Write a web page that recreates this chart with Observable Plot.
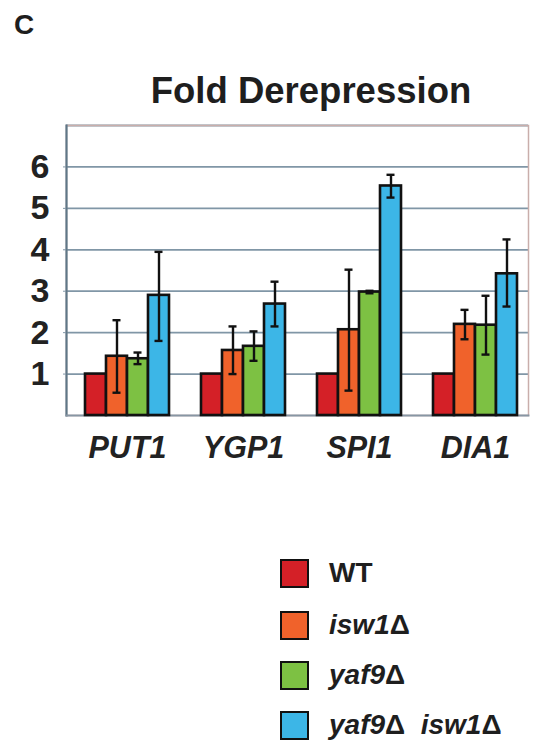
<!DOCTYPE html>
<html><head><meta charset="utf-8">
<script src="https://cdn.jsdelivr.net/npm/d3@7"></script>
<script src="https://cdn.jsdelivr.net/npm/@observablehq/plot@0.6"></script>
<style>
body{margin:0;background:#fff;font-family:"Liberation Sans",Arial,sans-serif;color:#1e1e1e;}
#wrap{position:relative;width:536px;height:745px;overflow:hidden;}
#panel{position:absolute;left:14px;top:11px;font-size:28px;line-height:28px;font-weight:bold;}
#title{position:absolute;left:111px;width:400px;text-align:center;top:73px;font-size:36.5px;line-height:36px;font-weight:bold;}
.layer{position:absolute;left:0;top:0;}
#legend{position:absolute;left:280px;top:0;}
.row{position:absolute;left:0;height:30px;display:flex;align-items:center;white-space:nowrap;}
.sw{width:25px;height:25px;border:2.5px solid #111;}
.lab{margin-left:20px;font-size:28px;line-height:30px;font-weight:bold;}
.lab i{font-style:italic;}
</style></head>
<body>
<div id="wrap">
  <div id="panel">C</div>
  <div id="title">Fold Derepression</div>
  <div id="back" class="layer"></div>
  <div id="front" class="layer"></div>
  <div id="legend"></div>
</div>
<script>
const genes = ["PUT1", "YGP1", "SPI1", "DIA1"];
const strains = ["WT", "isw1Δ", "yaf9Δ", "yaf9Δ isw1Δ"];
const colors = ["#d42027", "#f0622b", "#7dc143", "#3cb6e7"];
const yTicks = [1, 2, 3, 4, 5, 6];
const gridValues = [1, 2, 3, 4, 5, 6, 7];

const wtValues = [1, 1, 1, 1];
const isw1Values = [1.43, 1.57, 2.07, 2.2];
const yaf9Values = [1.37, 1.67, 2.98, 2.18];
const doubleValues = [2.9, 2.69, 5.54, 3.42];

const isw1Lo = [0.55, 1.0, 0.6, 1.84];
const isw1Hi = [2.3, 2.15, 3.52, 2.55];
const yaf9Lo = [1.24, 1.32, 2.95, 1.47];
const yaf9Hi = [1.52, 2.03, 3.01, 2.89];
const doubleLo = [1.8, 2.15, 5.26, 2.63];
const doubleHi = [3.95, 3.23, 5.81, 4.25];

const values = [wtValues, isw1Values, yaf9Values, doubleValues];
const los = [null, isw1Lo, yaf9Lo, doubleLo];
const his = [null, isw1Hi, yaf9Hi, doubleHi];

const data = [];
const errs = [];
genes.forEach((g, i) => strains.forEach((s, j) => {
  data.push({gene: g, strain: s, value: values[j][i]});
  if (los[j]) errs.push({gene: g, strain: s, lo: los[j][i], hi: his[j][i]});
}));

const dims = {width: 536, height: 470, marginLeft: 66, marginRight: 8, marginTop: 125, marginBottom: 55};
const font = {fontFamily: "'Liberation Sans', Arial, sans-serif", background: "transparent", color: "#1e1e1e"};
const grid = "#8096a6";

// background layer: grid, frame, y axis
const back = Plot.plot({
  ...dims, style: font,
  y: {domain: [0, 7], axis: null},
  marks: [
    Plot.ruleY(gridValues, {stroke: grid, strokeWidth: 1.8}),
    Plot.frame({stroke: "#c9aeab", strokeWidth: 1.5}),
    Plot.frame({anchor: "left", stroke: "#5f7787", strokeWidth: 2.2}),
    Plot.frame({anchor: "bottom", stroke: "#8796a3", strokeWidth: 1.8}),
    Plot.axisY(yTicks, {tickSize: 3, stroke: grid, tickPadding: 14, fontSize: 34, fontWeight: "bold", fill: "#222", label: null})
  ]
});
document.getElementById("back").appendChild(back);

// front layer: bars, error bars, gene labels
const front = Plot.plot({
  ...dims, style: font,
  fx: {domain: genes, paddingInner: 0.26, paddingOuter: 0.12, align: 0.63, label: null},
  x: {domain: strains, padding: 0, axis: null},
  y: {domain: [0, 7], axis: null},
  color: {domain: strains, range: colors},
  marks: [
    Plot.barY(data, {fx: "gene", x: "strain", y: "value", fill: "strain", stroke: "#111", strokeWidth: 2.6}),
    Plot.ruleX(errs, {fx: "gene", x: "strain", y1: "lo", y2: "hi", stroke: "#111", strokeWidth: 2.4}),
    Plot.tickY(errs, {fx: "gene", x: "strain", y: "lo", stroke: "#111", strokeWidth: 2.4, insetLeft: 6.5, insetRight: 6.5}),
    Plot.tickY(errs, {fx: "gene", x: "strain", y: "hi", stroke: "#111", strokeWidth: 2.4, insetLeft: 6.5, insetRight: 6.5}),
    Plot.axisFx({anchor: "bottom", tickSize: 0, tickPadding: 21, fontSize: 30.5, fontWeight: "bold", fontStyle: "italic", fill: "#222", label: null})
  ]
});
document.getElementById("front").appendChild(front);

const legendCenters = [573, 625, 675, 725];
const legend = document.getElementById("legend");
strains.forEach((s, j) => {
  const row = document.createElement("div");
  row.className = "row";
  row.style.top = (legendCenters[j] - 15) + "px";
  const sw = document.createElement("div");
  sw.className = "sw";
  sw.style.background = colors[j];
  const lab = document.createElement("div");
  lab.className = "lab";
  if (s === "WT") lab.textContent = s;
  else lab.innerHTML = s.split(" ").map(w => "<i>" + w.replace("Δ", "") + "</i>Δ").join("&nbsp; ");
  row.appendChild(sw); row.appendChild(lab);
  legend.appendChild(row);
});
</script>
</body></html>
